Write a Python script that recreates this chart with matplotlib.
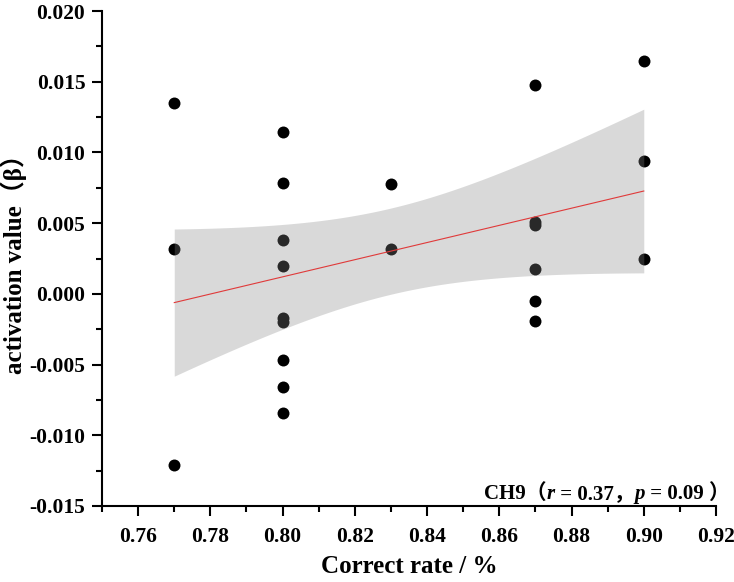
import numpy as np
import matplotlib
matplotlib.use("Agg")
import matplotlib.pyplot as plt
from matplotlib.ticker import MultipleLocator
from matplotlib.offsetbox import TextArea, HPacker, AnchoredOffsetbox

FONTS = ["Liberation Serif", "Noto Sans CJK SC"]
plt.rcParams["font.family"] = FONTS
plt.rcParams["font.weight"] = "bold"

# data (CH9)
correct_rate = [0.77, 0.77, 0.77,
                0.80, 0.80, 0.80, 0.80, 0.80, 0.80, 0.80, 0.80, 0.80,
                0.83, 0.83,
                0.87, 0.87, 0.87, 0.87, 0.87, 0.87,
                0.90, 0.90, 0.90]
activation = [0.01353, 0.00320, -0.01212,
              0.01145, 0.00784, 0.00379, 0.00197, -0.00173, -0.00201, -0.00467, -0.00658, -0.00844,
              0.00775, 0.00315,
              0.01480, 0.00510, 0.00490, 0.00176, -0.00050, -0.00194,
              0.01647, 0.00940, 0.00245]
x_ticks = [0.76, 0.78, 0.80, 0.82, 0.84, 0.86, 0.88, 0.90, 0.92]
y_ticks = [-0.015, -0.010, -0.005, 0.000, 0.005, 0.010, 0.015, 0.020]

x = np.array(correct_rate)
y = np.array(activation)

# linear fit with 95% confidence band
n = len(x)
slope, icpt = np.polyfit(x, y, 1)
resid = y - (slope * x + icpt)
s = np.sqrt(np.sum(resid ** 2) / (n - 2))
sxx = np.sum((x - x.mean()) ** 2)
t_crit = 2.08
xs = np.linspace(x.min(), x.max(), 200)
yfit = slope * xs + icpt
half = t_crit * s * np.sqrt(1 / n + (xs - x.mean()) ** 2 / sxx)

fig = plt.figure(figsize=(7.34, 5.82), dpi=100)
ax = fig.add_axes([0.139, 0.1306, 0.8365, 0.8504])

ax.scatter(x, y, s=74, color="black", zorder=2, linewidths=0)
ax.fill_between(xs, yfit - half, yfit + half, color="#868686", alpha=0.31,
                linewidth=0, zorder=3)
ax.plot(xs, yfit, color="#e03a3a", linewidth=0.8, zorder=4)

ax.set_xlim(0.75, 0.92)
ax.set_ylim(-0.015, 0.020)
ax.set_xticks(x_ticks)
ax.set_yticks(y_ticks)
ax.set_xticklabels([f"{v:.2f}" for v in x_ticks])
ax.set_yticklabels([f"{v:.3f}" for v in y_ticks])
ax.xaxis.set_minor_locator(MultipleLocator(0.01))
ax.yaxis.set_minor_locator(MultipleLocator(0.0025))

for sp in ["top", "right"]:
    ax.spines[sp].set_visible(False)
for sp in ["left", "bottom"]:
    ax.spines[sp].set_linewidth(1.5)
ax.tick_params(which="major", direction="out", length=7, width=1.5, labelsize=15.5)
ax.tick_params(axis="x", which="major", pad=8)
ax.tick_params(axis="y", which="major", pad=5)
ax.tick_params(which="minor", direction="out", length=4, width=1.5)
for lab in ax.get_xticklabels() + ax.get_yticklabels():
    lab.set_fontweight("bold")

ax.set_xlabel("Correct rate / %", fontsize=18, fontweight="bold", labelpad=6)
ax.set_ylabel("activation value（β）", fontsize=18, fontweight="bold")
ax.yaxis.set_label_coords(-0.122, 0.5)

# annotation with italic r and p
base = dict(family=FONTS, fontsize=15, fontweight="bold", color="black")
ital = dict(base, style="italic")
parts = [TextArea("CH9（", textprops=base),
         TextArea("r", textprops=ital),
         TextArea(" = 0.37，", textprops=base),
         TextArea("p", textprops=ital),
         TextArea(" = 0.09 ）", textprops=base)]
box = HPacker(children=parts, pad=0, sep=0, align="baseline")
anch = AnchoredOffsetbox(loc="lower right", child=box, frameon=False,
                         pad=0, borderpad=0.15,
                         bbox_to_anchor=(1.026, 0.0), bbox_transform=ax.transAxes)
ax.add_artist(anch)

fig.savefig("out.png", dpi=100)
